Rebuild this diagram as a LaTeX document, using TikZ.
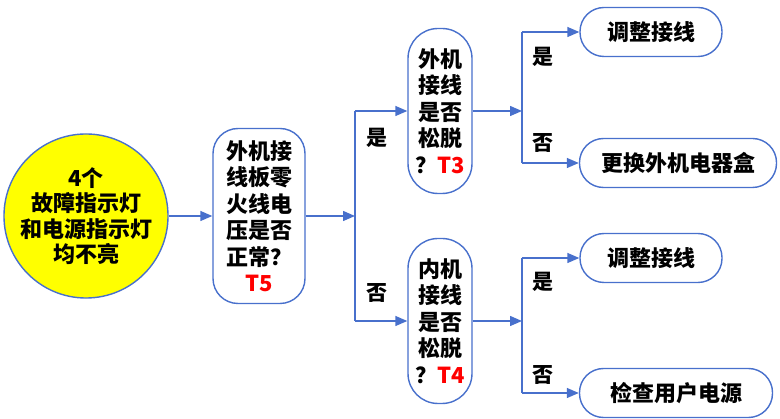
\documentclass[tikz,border=0pt]{standalone}
\usepackage{fontspec}
\setmainfont{Noto Sans CJK SC}
\usetikzlibrary{arrows.meta,positioning,calc}
\definecolor{lineblue}{RGB}{72,112,204}
\definecolor{lampyellow}{RGB}{255,255,0}
\definecolor{tred}{RGB}{255,0,0}

\begin{document}
\begin{tikzpicture}[x=1pt, y=1pt,
        every node/.style={font=\fontsize{22}{26.5}\selectfont\bfseries},
        box/.style={rectangle, draw=lineblue, line width=1.4pt, fill=white, align=center, inner sep=0pt},
        pill/.style={box, minimum height=49pt, rounded corners=24pt},
        check/.style={box, minimum width=64pt, minimum height=165pt, rounded corners=30pt},
        arrow/.style={-{Triangle[length=12pt,width=10pt]}, line width=1.4pt, lineblue},
        link/.style={line width=1.4pt, lineblue},
        answer/.style={font=\fontsize{21}{24}\selectfont\bfseries}
    ]
    \useasboundingbox (0,0) rectangle (780,-419);
    \node[circle, draw=lineblue, line width=1.4pt, fill=lampyellow, minimum size=160pt, align=center, inner sep=0pt, font=\fontsize{22}{25.5}\selectfont\bfseries] (lamp) at (86,-216) {4个\\故障指示灯\\和电源指示灯\\均不亮};
    \node[box, minimum width=92pt, minimum height=175pt, rounded corners=25pt] (t5) at (259,-216) {外机接\\线板零\\火线电\\压是否\\正常？\\{\color{tred}T5}};
    \node[check] (t3) at (440,-111) {外机\\接线\\是否\\松脱\\？{\color{tred}T3}};
    \node[check] (t4) at (440,-321) {内机\\接线\\是否\\松脱\\？{\color{tred}T4}};

    \node[pill, minimum width=142pt] (fixtop) at (651,-32) {调整接线};
    \node[pill, minimum width=197pt] (replace) at (678,-163) {更换外机电器盒};
    \node[pill, minimum width=142pt] (fixlow) at (651,-258) {调整接线};
    \node[pill, minimum width=193pt] (power) at (676,-393) {检查用户电源};

    \coordinate (fork1) at (355,-216);
    \coordinate (fork2) at (522,-111);
    \coordinate (fork3) at (522,-321);

    \draw[arrow] (lamp) -- (t5);
    \draw[arrow] (t5) -- (fork1);
    \draw[link] (fork1 |- t3) -- (fork1 |- t4);
    \draw[arrow] (fork1 |- t3) -- (t3);
    \draw[arrow] (fork1 |- t4) -- (t4);

    \draw[arrow] (t3) -- (fork2);
    \draw[link] (fork2 |- fixtop) -- (fork2 |- replace);
    \draw[arrow] (fork2 |- fixtop) -- (fixtop);
    \draw[arrow] (fork2 |- replace) -- (replace);

    \draw[arrow] (t4) -- (fork3);
    \draw[link] (fork3 |- fixlow) -- (fork3 |- power);
    \draw[arrow] (fork3 |- fixlow) -- (fixlow);
    \draw[arrow] (fork3 |- power) -- (power);

    \node[answer] (yes1) at (377,-138) {是};
    \node[answer] (no1) at (377,-293) {否};
    \node[answer] (yes2) at (543,-57) {是};
    \node[answer] (no2) at (543,-143) {否};
    \node[answer] (yes3) at (543,-282) {是};
    \node[answer] (no3) at (543,-375) {否};
\end{tikzpicture}
\end{document}
